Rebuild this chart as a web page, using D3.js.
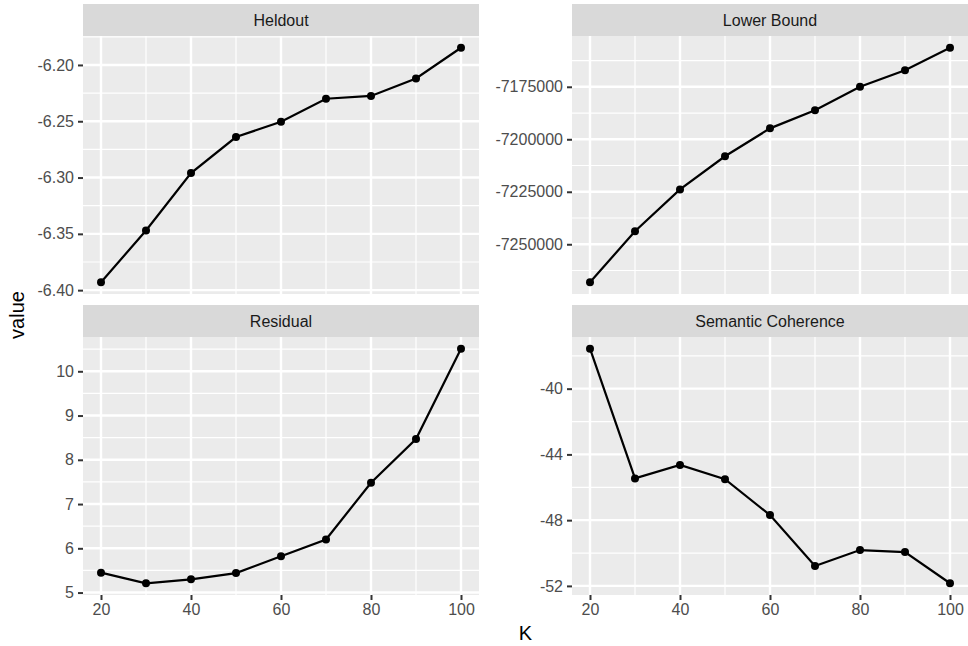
<!DOCTYPE html>
<html>
<head>
<meta charset="utf-8">
<script src="https://cdn.jsdelivr.net/npm/d3@7"></script>
<style>
  body { margin: 0; background: #fff; }
  svg { font-family: "Liberation Sans", Arial, sans-serif; }
</style>
</head>
<body>
<svg id="chart" width="968" height="646"></svg>
<script>
"use strict";

// data
var kValues = [20, 30, 40, 50, 60, 70, 80, 90, 100];
var heldout = [-6.393, -6.347, -6.296, -6.264, -6.2505, -6.230, -6.2275, -6.212, -6.1847];
var lowerBound = [-7268100, -7243800, -7223900, -7208100, -7194800, -7186200, -7175000, -7167100, -7156400];
var residual = [5.45, 5.21, 5.30, 5.44, 5.82, 6.20, 7.48, 8.47, 10.51];
var semCoherence = [-37.57, -45.46, -44.64, -45.51, -47.69, -50.79, -49.82, -49.94, -51.84];

var panelTitles = ['Heldout', 'Lower Bound', 'Residual', 'Semantic Coherence'];
var xTicks = [20, 40, 60, 80, 100];
var heldoutTicks = [-6.40, -6.35, -6.30, -6.25, -6.20];
var lowerBoundTicks = [-7250000, -7225000, -7200000, -7175000];
var residualTicks = [5, 6, 7, 8, 9, 10];
var semCoherenceTicks = [-52, -48, -44, -40];

var panels = [
  { title: panelTitles[0], values: heldout, ticks: heldoutTicks, fmt: function (v) { return v.toFixed(2); }, col: 0, row: 0 },
  { title: panelTitles[1], values: lowerBound, ticks: lowerBoundTicks, fmt: function (v) { return String(v); }, col: 1, row: 0 },
  { title: panelTitles[2], values: residual, ticks: residualTicks, fmt: function (v) { return String(v); }, col: 0, row: 1 },
  { title: panelTitles[3], values: semCoherence, ticks: semCoherenceTicks, fmt: function (v) { return String(v); }, col: 1, row: 1 }
];

var colX = [[83, 479], [572, 968]];
var rowY = [[4, 36, 294], [305, 337, 595]]; // strip top, panel top, panel bottom

function expand(ext) {
  var r = ext[1] - ext[0];
  return [ext[0] - r * 0.05, ext[1] + r * 0.05];
}

function minorBreaks(major, domain) {
  var step = major[1] - major[0];
  var out = [];
  for (var i = -1; i < major.length; i++) {
    var m = major[0] + step * (i + 0.5);
    if (m >= Math.min(domain[0], domain[1]) && m <= Math.max(domain[0], domain[1])) out.push(m);
  }
  return out;
}

function _make_panel(svg, p) {
  var x0 = colX[p.col][0], x1 = colX[p.col][1];
  var sTop = rowY[p.row][0], pTop = rowY[p.row][1], pBot = rowY[p.row][2];

  var _x = d3.scaleLinear().domain(expand(d3.extent(kValues))).range([x0, x1]);
  var _y = d3.scaleLinear().domain(expand(d3.extent(p.values))).range([pBot, pTop]);

  var g = svg.append('g');

  // strip
  g.append('rect')
    .attr('x', x0).attr('y', sTop)
    .attr('width', x1 - x0).attr('height', pTop - sTop)
    .attr('fill', '#D9D9D9');
  g.append('text')
    .attr('x', (x0 + x1) / 2).attr('y', (sTop + pTop) / 2)
    .attr('dy', '0.35em')
    .attr('text-anchor', 'middle')
    .attr('font-size', 16)
    .attr('fill', '#1A1A1A')
    .text(p.title);

  // panel background
  g.append('rect')
    .attr('x', x0).attr('y', pTop)
    .attr('width', x1 - x0).attr('height', pBot - pTop)
    .attr('fill', '#EBEBEB');

  // minor grid
  var xMinor = minorBreaks(xTicks, _x.domain());
  var yMinor = minorBreaks(p.ticks, _y.domain());
  g.selectAll('.xminor').data(xMinor).enter().append('line')
    .attr('x1', function (d) { return _x(d); }).attr('x2', function (d) { return _x(d); })
    .attr('y1', pTop).attr('y2', pBot)
    .attr('stroke', '#fff').attr('stroke-width', 1.2);
  g.selectAll('.yminor').data(yMinor).enter().append('line')
    .attr('y1', function (d) { return _y(d); }).attr('y2', function (d) { return _y(d); })
    .attr('x1', x0).attr('x2', x1)
    .attr('stroke', '#fff').attr('stroke-width', 1.2);

  // major grid
  g.selectAll('.xmajor').data(xTicks).enter().append('line')
    .attr('x1', function (d) { return _x(d); }).attr('x2', function (d) { return _x(d); })
    .attr('y1', pTop).attr('y2', pBot)
    .attr('stroke', '#fff').attr('stroke-width', 2.4);
  g.selectAll('.ymajor').data(p.ticks).enter().append('line')
    .attr('y1', function (d) { return _y(d); }).attr('y2', function (d) { return _y(d); })
    .attr('x1', x0).attr('x2', x1)
    .attr('stroke', '#fff').attr('stroke-width', 2.4);

  // line + points
  var data = kValues.map(function (k, i) { return { k: k, v: p.values[i] }; });
  var valueline = d3.line()
    .x(function (d) { return _x(d.k); })
    .y(function (d) { return _y(d.v); });
  g.append('path')
    .datum(data)
    .attr('d', valueline)
    .attr('fill', 'none')
    .attr('stroke', '#000')
    .attr('stroke-width', 2.2);
  g.selectAll('.pt').data(data).enter().append('circle')
    .attr('cx', function (d) { return _x(d.k); })
    .attr('cy', function (d) { return _y(d.v); })
    .attr('r', 4)
    .attr('fill', '#000');

  // y axis
  var yaxis = g.append('g')
    .attr('transform', 'translate(' + x0 + ',0)')
    .call(d3.axisLeft(_y).tickValues(p.ticks).tickFormat(p.fmt).tickSize(5).tickPadding(4));
  styleAxis(yaxis);

  // x axis on bottom row only
  if (p.row === 1) {
    var xaxis = g.append('g')
      .attr('transform', 'translate(0,' + pBot + ')')
      .call(d3.axisBottom(_x).tickValues(xTicks).tickFormat(function (v) { return String(v); }).tickSize(5).tickPadding(4));
    styleAxis(xaxis);
  }
}

function styleAxis(ax) {
  ax.select('.domain').remove();
  ax.selectAll('line').attr('stroke', '#333333').attr('stroke-width', 2);
  ax.selectAll('text')
    .attr('fill', '#4D4D4D')
    .attr('font-size', 16)
    .attr('font-family', '"Liberation Sans", Arial, sans-serif');
}

function init_plot() {
  var svg = d3.select('#chart');
  panels.forEach(function (p) { _make_panel(svg, p); });

  svg.append('text')
    .attr('x', (colX[0][0] + colX[1][1]) / 2)
    .attr('y', 640)
    .attr('text-anchor', 'middle')
    .attr('font-size', 20)
    .attr('fill', '#000')
    .text('K');

  svg.append('text')
    .attr('transform', 'translate(24,315) rotate(-90)')
    .attr('text-anchor', 'middle')
    .attr('font-size', 20)
    .attr('fill', '#000')
    .text('value');
}

init_plot();
</script>
</body>
</html>
